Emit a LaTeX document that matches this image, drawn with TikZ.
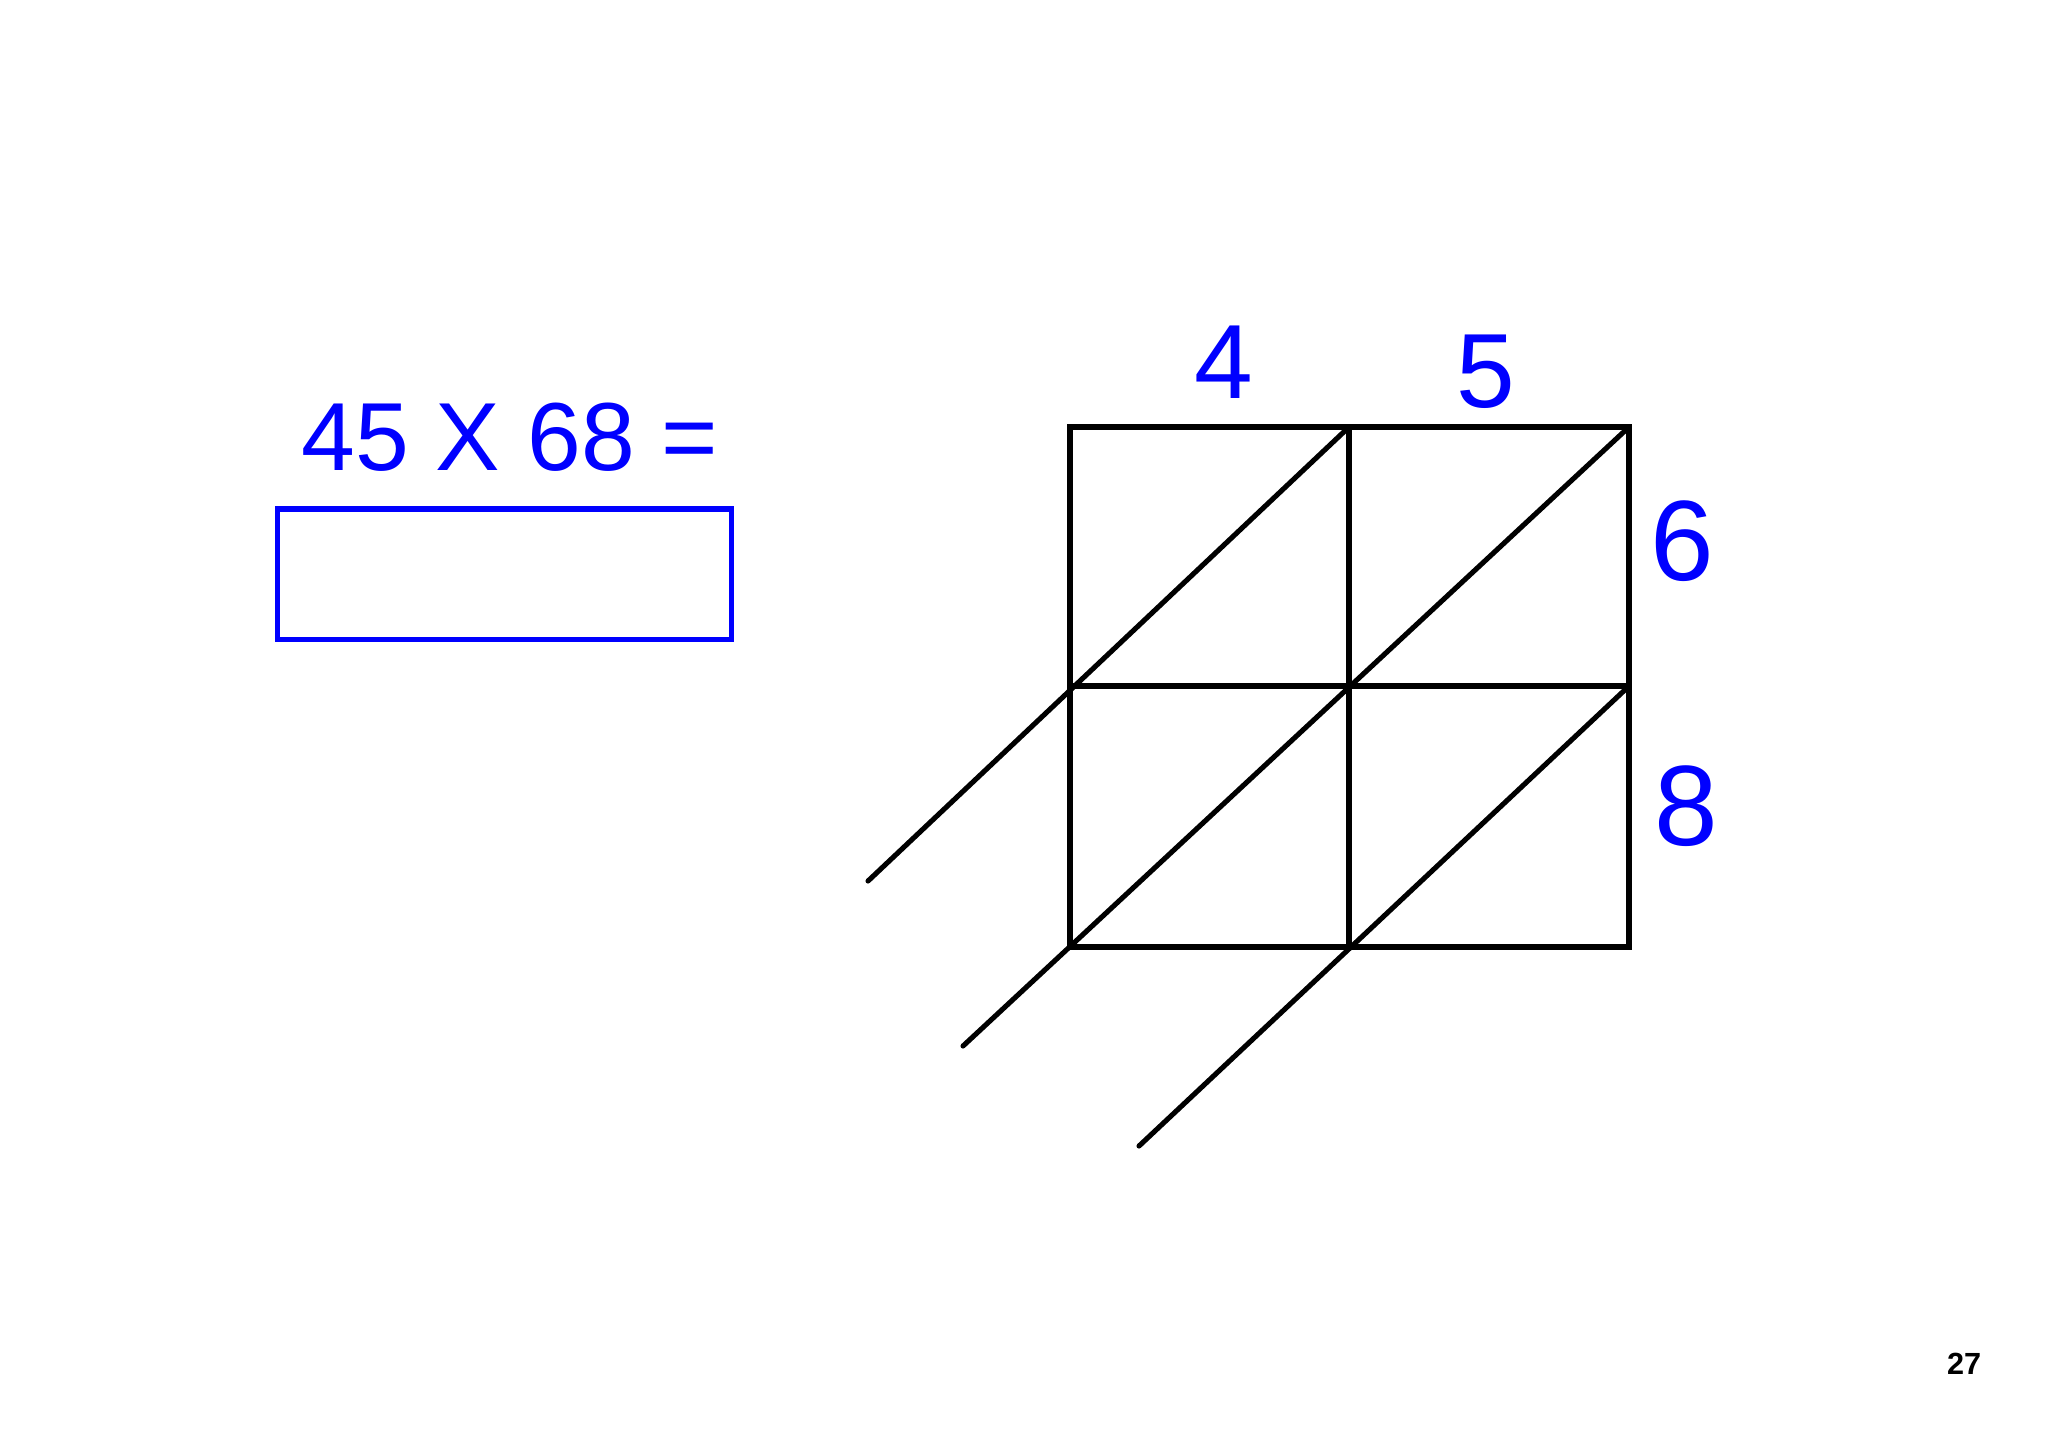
\documentclass[tikz,border=0pt]{standalone}
\usepackage{fontspec}
\setmainfont{Liberation Sans}
\usetikzlibrary{positioning}
\definecolor{numblue}{RGB}{0,0,255}

\begin{document}
\begin{tikzpicture}[x=0.01cm,y=-0.01cm,
  grid/.style={line width=1.45pt,black},
  digit/.style={text=numblue,inner sep=0pt,anchor=base}]
  \useasboundingbox (0,0) rectangle (2048,1447);
  % lattice corners
  \coordinate (a1) at (1070,427);
  \coordinate (b1) at (1349,427);
  \coordinate (c1) at (1629,427);
  \coordinate (a2) at (1070,686);
  \coordinate (b2) at (1349,686);
  \coordinate (c2) at (1629,686);
  \coordinate (a3) at (1070,947);
  \coordinate (b3) at (1349,947);
  \coordinate (c3) at (1629,947);
  % free ends of the diagonals
  \coordinate (e1) at (868,881);
  \coordinate (e2) at (963,1046);
  \coordinate (e3) at (1139,1146);

  \node[digit,font=\fontsize{30}{30}\selectfont] (top4) at (1224,398) {4};
  \node[digit,font=\fontsize{30}{30}\selectfont] (top5) at (1486,407) {5};
  \node[digit,font=\fontsize{32.5}{32.5}\selectfont] (side6) at (1682,580) {6};
  \node[digit,font=\fontsize{32.5}{32.5}\selectfont] (side8) at (1686,845) {8};

  \node[digit,font=\fontsize{27.5}{27.5}\selectfont] (sum) at (510,470) {45 X 68 =};
  \node[draw=numblue,line width=1.45pt,minimum width=4.53cm,minimum height=1.30cm,
        inner sep=0pt] (answer) at (504.5,574) {};

  \draw[grid] (a1) rectangle (c3);
  \draw[grid] (b1) -- (b3);
  \draw[grid] (a2) -- (c2);
  \draw[grid,line cap=round] (b1) -- (e1);
  \draw[grid,line cap=round] (c1) -- (e2);
  \draw[grid,line cap=round] (c2) -- (e3);

  \node[font=\bfseries\fontsize{8.7}{8.7}\selectfont,inner sep=0pt,anchor=base] (page) at (1964,1374) {27};
\end{tikzpicture}
\end{document}
